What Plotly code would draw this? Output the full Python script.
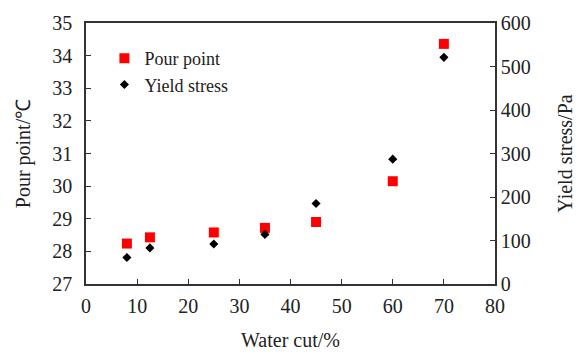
import plotly.graph_objects as go

water_cut = [8, 12.5, 25, 35, 45, 60, 70]
pour_point = [28.24, 28.43, 28.58, 28.72, 28.9, 30.15, 34.36]
yield_stress = [61, 83, 92, 114, 185, 287, 521]

font_family = "Liberation Serif"
axis_color = "#333333"
text_color = "#222222"

fig = go.Figure()
fig.add_trace(go.Scatter(
    x=water_cut, y=pour_point, mode="markers", name="Pour point",
    marker=dict(symbol="square", size=10, color="#ff0000"),
))
fig.add_trace(go.Scatter(
    x=water_cut, y=yield_stress, mode="markers", name="Yield stress",
    marker=dict(symbol="diamond", size=7, color="#000000"),
    yaxis="y2",
))

common = dict(showgrid=False, zeroline=False, showline=True, linecolor=axis_color,
              linewidth=1.5, ticks="inside", ticklen=5, tickcolor=axis_color,
              automargin=False,
              tickfont=dict(family=font_family, size=20, color=text_color))

# page body has an 8px default margin, so the figure is offset by 8px
fig.update_layout(
    width=581, height=354,
    margin=dict(l=78, r=94, t=15, b=78),
    plot_bgcolor="white", paper_bgcolor="white",
    font=dict(family=font_family, size=20, color=text_color),
    showlegend=True,
    legend=dict(x=0.045, y=0.935, xanchor="left", yanchor="top",
                bgcolor="rgba(0,0,0,0)",
                font=dict(family=font_family, size=18, color=text_color),
                itemsizing="trace", tracegroupgap=0),
    xaxis=dict(range=[0, 80], dtick=10, mirror=True, ticklabelstandoff=3,
               title=dict(text="Water cut/%", font=dict(size=20), standoff=17), **common),
    yaxis=dict(range=[27, 35], dtick=1, ticklabelstandoff=8,
               title=dict(text="Pour point/℃", font=dict(size=20), standoff=16), **common),
    yaxis2=dict(range=[0, 600], dtick=100, overlaying="y", side="right",
                title=dict(text="Yield stress/Pa", font=dict(size=20), standoff=28), **common),
)

fig.write_html("out.html")
